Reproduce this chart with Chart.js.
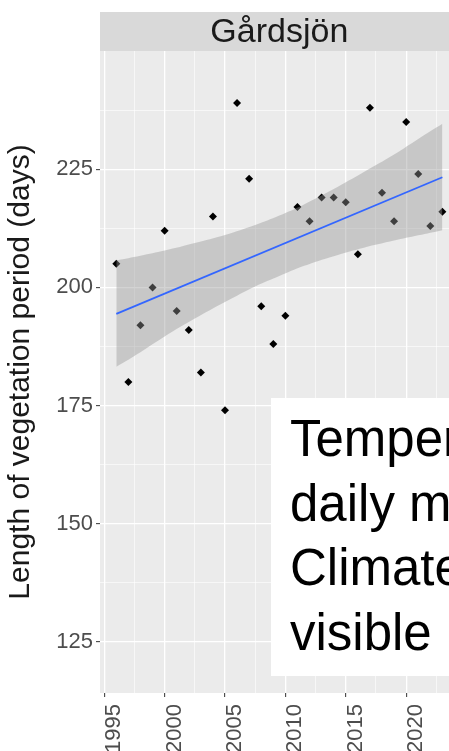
<!DOCTYPE html>
<html>
<head>
<meta charset="utf-8">
<script src="https://cdn.jsdelivr.net/npm/chart.js@4/dist/chart.umd.min.js"></script>
<style>
  html, body { margin: 0; padding: 0; background: #fff; width: 449px; height: 751px; overflow: hidden; }
  #wrap { position: relative; width: 470px; height: 751px; }
  #note {
    position: absolute; left: 271px; top: 398px; width: 260px; height: 278px;
    background: #fff; box-sizing: border-box; padding: 9px 0 0 19px;
    font-family: "Liberation Sans", Arial, sans-serif; font-size: 51px; line-height: 64.6px;
    color: #000; white-space: nowrap;
  }
</style>
</head>
<body>
<div id="wrap">
  <canvas id="chart" width="470" height="751"></canvas>
  <div id="note">Temperature<br>daily mean<br>Climate<br>visible</div>
</div>
<script>
// === Datos ===
const panelTitle = "Gårdsjön";
const yTitle = "Length of vegetation period (days)";

const years = [1996, 1997, 1998, 1999, 2000, 2001, 2002, 2003, 2004, 2005, 2006, 2007, 2008, 2009,
               2010, 2011, 2012, 2013, 2014, 2015, 2016, 2017, 2018, 2019, 2020, 2021, 2022, 2023];
const lengthDays = [205, 180, 192, 200, 212, 195, 191, 182, 215, 174, 239, 223, 196, 188,
                    194, 217, 214, 219, 219, 218, 207, 238, 220, 214, 235, 224, 213, 216];

// linear trend (geom_smooth lm)
const fitYears = [1996, 2023];
const fitValues = [194.4, 223.3];
const bandYears = [1996, 1998, 2000, 2002.5, 2005, 2007.5, 2009.5, 2011.5, 2014, 2016.5, 2019, 2021, 2023];
const bandUpper = [205.7, 206.7, 207.8, 209.4, 211.1, 213.2, 215.2, 217.5, 220.8, 224.4, 228.1, 231.4, 234.6];
const bandLower = [183.2, 186.3, 189.6, 193.4, 196.9, 200.2, 202.4, 204.5, 206.6, 208.4, 209.9, 211.0, 212.1];

const xMajorTicks = [1995, 2000, 2005, 2010, 2015, 2020];
const xMinorTicks = [1997.5, 2002.5, 2007.5, 2012.5, 2017.5, 2022.5];
const yMajorTicks = [125, 150, 175, 200, 225];
const yMinorTicks = [137.5, 162.5, 187.5, 212.5, 237.5];

const pts = (xs, ys) => xs.map((x, i) => ({ x, y: ys[i] }));
const isMajor = (v, list) => list.includes(v);

// === Panel background + strip ===
const ggPanel = {
  id: "ggPanel",
  beforeDraw(chart) {
    const { ctx, chartArea: a } = chart;
    ctx.save();
    ctx.fillStyle = "#EBEBEB";
    ctx.fillRect(a.left, a.top, a.right - a.left, a.bottom - a.top);
    ctx.fillStyle = "#D9D9D9";
    ctx.fillRect(a.left, 12, a.right - a.left, a.top - 12);
    ctx.fillStyle = "#1A1A1A";
    ctx.font = "34px 'Liberation Sans', Arial, sans-serif";
    ctx.textAlign = "center";
    ctx.textBaseline = "middle";
    ctx.fillText(panelTitle, (a.left + a.right) / 2, (12 + a.top) / 2 + 1);
    ctx.restore();
  }
};

function gridStyle(majorList) {
  return {
    color: "#FFFFFF",
    lineWidth: c => isMajor(c.tick.value, majorList) ? 1.3 : 0.6,
    drawTicks: true,
    tickLength: 4,
    tickColor: c => isMajor(c.tick.value, majorList) ? "#333333" : "rgba(0,0,0,0)",
    tickWidth: 1
  };
}

new Chart(document.getElementById("chart").getContext("2d"), {
  type: "scatter",
  data: {
    datasets: [
      {
        label: "obs", data: pts(years, lengthDays), order: 3,
        pointStyle: "rectRot", pointRadius: 4, pointBackgroundColor: "#000",
        pointBorderWidth: 0, showLine: false
      },
      {
        label: "upper", type: "line", data: pts(bandYears, bandUpper), order: 2,
        borderWidth: 0, pointRadius: 0, tension: 0.4,
        fill: { target: 2 }, backgroundColor: "rgba(150,150,150,0.42)"
      },
      {
        label: "lower", type: "line", data: pts(bandYears, bandLower), order: 2,
        borderWidth: 0, pointRadius: 0, tension: 0.4, fill: false
      },
      {
        label: "fit", type: "line", data: pts(fitYears, fitValues), order: 1,
        borderColor: "#3366FF", borderWidth: 1.8, pointRadius: 0, fill: false
      }
    ]
  },
  options: {
    responsive: false,
    animation: false,
    layout: { padding: { top: 51, right: 3, left: 0, bottom: 0 } },
    plugins: { legend: { display: false }, tooltip: { enabled: false } },
    scales: {
      x: {
        type: "linear", min: 1994.65, max: 2024.35,
        border: { display: false },
        grid: gridStyle(xMajorTicks),
        afterBuildTicks: s => { s.ticks = [...xMajorTicks, ...xMinorTicks].sort((a, b) => a - b).map(v => ({ value: v })); },
        afterFit: s => { s.height = 58; },
        ticks: {
          autoSkip: false, minRotation: 90, maxRotation: 90, padding: 7, labelOffset: 10,
          color: "#4D4D4D", font: { family: "'Liberation Sans', Arial, sans-serif", size: 22 },
          callback: v => isMajor(v, xMajorTicks) ? String(v) : ""
        }
      },
      y: {
        type: "linear", min: 114.2, max: 250,
        border: { display: false },
        grid: gridStyle(yMajorTicks),
        afterBuildTicks: s => { s.ticks = [...yMajorTicks, ...yMinorTicks].sort((a, b) => a - b).map(v => ({ value: v })); },
        afterFit: s => { s.width = 100; },
        title: {
          display: true, text: yTitle, color: "#1A1A1A", padding: { top: 3, bottom: 0 },
          font: { family: "'Liberation Sans', Arial, sans-serif", size: 30 }
        },
        ticks: {
          padding: 3, color: "#4D4D4D", font: { family: "'Liberation Sans', Arial, sans-serif", size: 22 },
          callback: v => isMajor(v, yMajorTicks) ? String(v) : ""
        }
      }
    }
  },
  plugins: [ggPanel]
});
</script>
</body>
</html>
